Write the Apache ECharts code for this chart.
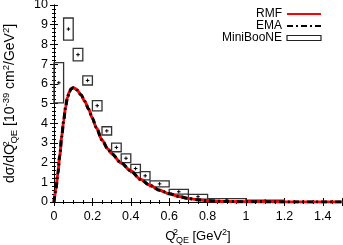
<!DOCTYPE html>
<html><head><meta charset="utf-8">
<script src="https://cdn.jsdelivr.net/npm/echarts@6/dist/echarts.min.js"></script>
<style>html,body{margin:0;padding:0;background:#fff}#c{width:343px;height:245px}</style>
</head><body><div id="c"></div>
<script>
// Model curves (Q2 in GeV^2, dsigma/dQ2 in 1e-39 cm^2/GeV^2)
var curveQ2 = [0,0.01,0.02,0.03,0.04,0.05,0.06,0.07,0.08,0.09,0.10,0.11,0.12,0.14,0.16,0.18,0.20,0.22,0.25,0.28,0.30,0.35,0.40,0.45,0.50,0.55,0.60,0.65,0.70,0.75,0.80,0.90,1.0,1.2,1.5];
var rmfValues = [0,0.65,1.45,2.35,3.3,4.1,4.8,5.3,5.6,5.75,5.8,5.76,5.68,5.45,5.12,4.72,4.25,3.78,3.15,2.7,2.45,1.98,1.58,1.15,0.85,0.6,0.42,0.28,0.18,0.11,0.06,0.025,0.012,0.004,0];
var emaValues = [0,0.65,1.45,2.35,3.3,4.1,4.8,5.3,5.6,5.75,5.8,5.76,5.68,5.45,5.12,4.72,4.25,3.78,3.15,2.7,2.45,1.98,1.58,1.15,0.85,0.6,0.42,0.28,0.18,0.11,0.06,0.025,0.012,0.004,0];
// MiniBooNE data
var binLow  = [0,0.05,0.10,0.15,0.20,0.25,0.30,0.35,0.40,0.45,0.50,0.60,0.70,0.80,1.0,1.2];
var binHigh = [0.05,0.10,0.15,0.20,0.25,0.30,0.35,0.40,0.45,0.50,0.60,0.70,0.80,1.0,1.2,1.5];
var dataValues = [6.05,8.78,7.48,6.17,4.89,3.61,2.77,2.22,1.70,1.33,0.92,0.52,0.27,0.10,0.05,0.01];
var dataErrors = [1.02,0.56,0.32,0.23,0.26,0.21,0.22,0.22,0.21,0.21,0.15,0.12,0.12,0.07,0.04,0.01];
var xTicks = {min:0, max:1.5, interval:0.2};
var yTicks = {min:0, max:10, interval:1};

var FONT = 'Liberation Sans';
var chart = echarts.init(document.getElementById('c'), null, {renderer:'canvas'});
function pairs(xs, ys){ return xs.map(function(x,i){return [x, ys[i]];}); }
var boxData = binLow.map(function(l,i){return [l, binHigh[i], dataValues[i], dataErrors[i]];});

function makeRich(fs, ss){ return {
  a:{fontSize:fs, fontFamily:FONT, color:'#000', lineHeight:fs+4},
  sup:{fontSize:ss, fontFamily:FONT, color:'#000', lineHeight:ss, verticalAlign:'top', padding:[0,0,2,0]},
  supz:{fontSize:ss, fontFamily:FONT, color:'#000', lineHeight:ss, verticalAlign:'top', padding:[0,0,2,0], width:0.5},
  sub:{fontSize:ss, fontFamily:FONT, color:'#000', lineHeight:ss, verticalAlign:'bottom', padding:[3,0,0,0]}
};}

var tickCommon = function(split){ return {
  axisLine:{show:true, lineStyle:{color:'#000', width:1}},
  axisTick:{show:true, inside:true, length:4, lineStyle:{color:'#000'}},
  minorTick:{show:true, splitNumber:split, length:2, lineStyle:{color:'#000'}},
  splitLine:{show:false}
};};

var option = {
  animation:false,
  textStyle:{fontFamily:FONT},
  grid:{left:54, right:1, top:5, bottom:43, containLabel:false, outerBoundsMode:'none'},
  legend:{
    orient:'vertical', right:16, top:3, align:'right',
    itemWidth:34, itemHeight:8, itemGap:0,
    textStyle:{fontSize:12, fontFamily:FONT, color:'#000', lineHeight:12},
    data:[
      {name:'RMF', itemStyle:{opacity:0}},
      {name:'EMA', itemStyle:{opacity:0}},
      {name:'MiniBooNE', icon:'path://M0,0 h34 v5 h-34 z', itemStyle:{color:'#fff', borderColor:'#222', borderWidth:1.2}}
    ]
  },
  xAxis:[
    Object.assign({type:'value', min:xTicks.min, max:xTicks.max, interval:xTicks.interval,
      name:'{a|Q}{supz|2}{sub|QE}{a| [GeV}{sup|2}{a|]}', nameLocation:'middle', nameGap:22,
      nameTextStyle:{rich:makeRich(13, 9)},
      axisLabel:{fontSize:12.5, fontFamily:FONT, color:'#000', margin:8,
        formatter:function(v){ return v > 1.45 ? '' : String(+v.toFixed(1)); }}
    }, tickCommon(4)),
    Object.assign({type:'value', position:'top', min:xTicks.min, max:xTicks.max, interval:xTicks.interval,
      axisLabel:{show:false}}, tickCommon(4))
  ],
  yAxis:[
    Object.assign({type:'value', min:yTicks.min, max:yTicks.max, interval:yTicks.interval,
      name:'{a|dσ/dQ}{supz|2}{sub|QE}{a| [10}{sup|-39}{a| cm}{sup|2}{a|/GeV}{sup|2}{a|]}',
      nameLocation:'middle', nameGap:35, nameRotate:90,
      nameTextStyle:{rich:makeRich(14, 9.5)},
      axisLabel:{fontSize:12.5, fontFamily:FONT, color:'#000', margin:6}
    }, tickCommon(5)),
    Object.assign({type:'value', position:'right', min:yTicks.min, max:yTicks.max, interval:yTicks.interval,
      axisLabel:{show:false}}, tickCommon(5))
  ],
  series:[
    {
      name:'MiniBooNE', type:'custom', z:2,
      encode:{x:[0,1], y:2},
      data:boxData,
      itemStyle:{color:'#fff', borderColor:'#222'},
      renderItem:function(params, api){
        var x0=api.value(0), x1=api.value(1), c=api.value(2), e=api.value(3);
        var p0=api.coord([x0, c+e]), p1=api.coord([x1, c-e]);
        var pc=api.coord([(x0+x1)/2, c]);
        return {type:'group', children:[
          {type:'rect', shape:{x:p0[0], y:p0[1], width:p1[0]-p0[0], height:p1[1]-p0[1]},
            style:{fill:'none', stroke:'#333', lineWidth:1.3}},
          {type:'line', shape:{x1:pc[0]-1.8, y1:pc[1], x2:pc[0]+1.8, y2:pc[1]}, style:{stroke:'#000', lineWidth:1}},
          {type:'line', shape:{x1:pc[0], y1:pc[1]-1.8, x2:pc[0], y2:pc[1]+1.8}, style:{stroke:'#000', lineWidth:1}}
        ]};
      }
    },
    {
      name:'RMF', type:'line', z:3, symbol:'none', smooth:0.3, smoothMonotone:'x',
      data:pairs(curveQ2, rmfValues),
      itemStyle:{color:'#ff0000'},
      lineStyle:{color:'#ff0000', width:3}
    },
    {
      name:'EMA', type:'line', z:4, symbol:'none', smooth:0.3, smoothMonotone:'x',
      data:pairs(curveQ2, emaValues),
      itemStyle:{color:'#000'},
      lineStyle:{color:'#000', width:3, type:[6,3,2,3]}
    }
  ]
};
chart.setOption(option);
</script>
</body></html>
